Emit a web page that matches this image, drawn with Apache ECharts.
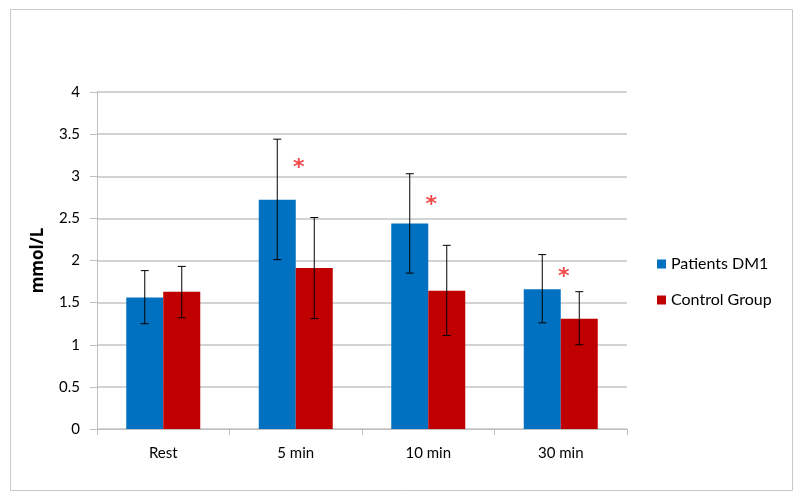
<!DOCTYPE html>
<html>
<head>
<meta charset="utf-8">
<script src="https://cdn.jsdelivr.net/npm/echarts@6/dist/echarts.min.js"></script>
<style>html,body{margin:0;padding:0;background:#fff;}#c{width:800px;height:500px;}</style>
</head>
<body>
<div id="c"></div>
<script>
var categories = ['Rest', '5 min', '10 min', '30 min'];
var seriesNames = ['Patients DM1', 'Control Group'];
var patientsMean = [1.56, 2.72, 2.44, 1.66];
var patientsLow = [1.25, 2.01, 1.85, 1.26];
var patientsHigh = [1.88, 3.44, 3.03, 2.07];
var controlMean = [1.63, 1.91, 1.64, 1.31];
var controlLow = [1.32, 1.31, 1.11, 1.00];
var controlHigh = [1.93, 2.51, 2.18, 1.63];
var starCategories = ['5 min', '10 min', '30 min'];
var starValues = [3.15, 2.71, 1.86];
var yTicks = [0, 0.5, 1, 1.5, 2, 2.5, 3, 3.5, 4];

var FONT = 'Lato, "Open Sans", sans-serif';
var BAR_W = 37;

function errData(low, high) {
  return categories.map(function (c, i) { return [i, low[i], high[i]]; });
}
function errSeries(low, high, shift) {
  return {
    type: 'custom',
    data: errData(low, high),
    z: 5,
    silent: true,
    renderItem: function (params, api) {
      var i = api.value(0);
      var p1 = api.coord([i, api.value(1)]);
      var p2 = api.coord([i, api.value(2)]);
      var x = p1[0] + shift;
      var cap = 4;
      var st = { stroke: '#000', lineWidth: 1 };
      return {
        type: 'group',
        children: [
          { type: 'line', shape: { x1: x, y1: p1[1], x2: x, y2: p2[1] }, style: st },
          { type: 'line', shape: { x1: x - cap, y1: p1[1], x2: x + cap, y2: p1[1] }, style: st },
          { type: 'line', shape: { x1: x - cap, y1: p2[1], x2: x + cap, y2: p2[1] }, style: st }
        ]
      };
    }
  };
}

var chart = echarts.init(document.getElementById('c'));
chart.setOption({
  animation: false,
  backgroundColor: '#fff',
  graphic: [{
    type: 'rect', left: 8, top: 7, shape: { width: 782, height: 481 },
    style: { fill: 'none', stroke: '#c8c8c8', lineWidth: 1 }, silent: true
  }],
  grid: { left: 97, right: 173, top: 92, bottom: 71 },
  legend: {
    orient: 'vertical', left: 652, top: 251,
    itemWidth: 9, itemHeight: 9, itemGap: 20,
    icon: 'rect',
    data: seriesNames,
    textStyle: { fontFamily: FONT, fontSize: 16, color: '#000' }
  },
  xAxis: {
    type: 'category',
    data: categories,
    axisLine: { lineStyle: { color: '#bfbfbf', width: 1 } },
    axisTick: { show: true, length: 6, lineStyle: { color: '#bfbfbf' } },
    axisLabel: { fontFamily: FONT, fontSize: 15, color: '#000', margin: 17 }
  },
  yAxis: {
    type: 'value',
    min: 0, max: 4, interval: 0.5,
    name: 'mmol/L',
    nameLocation: 'middle',
    nameGap: 50,
    nameTextStyle: { fontFamily: '"Open Sans", sans-serif', fontSize: 17, fontWeight: 'bold', color: '#000' },
    axisLine: { show: true, lineStyle: { color: '#bfbfbf', width: 1 } },
    axisTick: { show: true, length: 7, lineStyle: { color: '#bfbfbf' } },
    splitLine: { lineStyle: { color: '#c4c4c4', width: 1.5 } },
    axisLabel: {
      fontFamily: FONT, fontSize: 15, color: '#000', margin: 17,
      formatter: function (v) { return yTicks.indexOf(v) >= 0 ? String(v) : ''; }
    }
  },
  series: [
    {
      name: seriesNames[0], type: 'bar', data: patientsMean,
      barWidth: BAR_W, barGap: '0%',
      itemStyle: { color: '#0070C0' }
    },
    {
      name: seriesNames[1], type: 'bar', data: controlMean,
      barWidth: BAR_W, barGap: '0%',
      itemStyle: { color: '#C00000' }
    },
    errSeries(patientsLow, patientsHigh, -BAR_W / 2),
    errSeries(controlLow, controlHigh, BAR_W / 2),
    {
      type: 'scatter',
      symbolSize: 0,
      silent: true,
      z: 6,
      data: starCategories.map(function (c, i) { return [c, starValues[i]]; }),
      label: {
        show: true, position: 'inside', offset: [3, 5],
        formatter: '*',
        fontFamily: 'DejaVu Sans, sans-serif', fontSize: 22, fontWeight: 'bold', color: '#ee1c1c'
      }
    }
  ]
});
</script>
</body>
</html>
